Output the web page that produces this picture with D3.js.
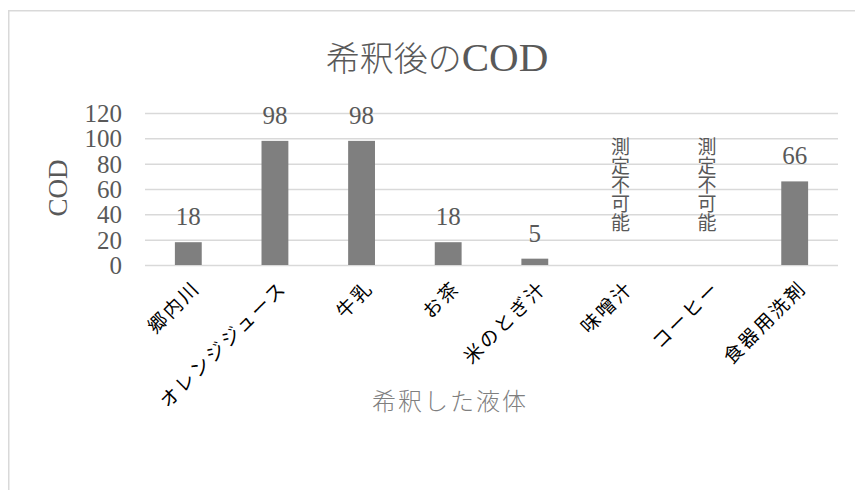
<!DOCTYPE html>
<html>
<head>
<meta charset="utf-8">
<script src="https://cdn.jsdelivr.net/npm/d3@7"></script>
<style>
  html, body { margin: 0; padding: 0; background: #fff; }
  svg { display: block; }
</style>
</head>
<body>
<svg id="chart" width="855" height="490"></svg>
<script>
// COD after dilution, per tested liquid
const categories = ["郷内川", "オレンジジュース", "牛乳", "お茶", "米のとぎ汁", "味噌汁", "コーヒー", "食器用洗剤"];
const codValues = [18, 98, 98, 18, 5, null, null, 66];
const valueLabels = ["18", "98", "98", "18", "5", "測定不可能", "測定不可能", "66"];
const yTickValues = [0, 20, 40, 60, 80, 100, 120];

const serif = "'Liberation Serif', 'Times New Roman', 'DejaVu Serif', serif";
const cjk = "'Noto Sans CJK JP', sans-serif";

const svg = d3.select("#chart");

// chart frame
svg.append("rect")
  .attr("x", 8.75).attr("y", 10.75)
  .attr("width", 900).attr("height", 600)
  .attr("fill", "#fff").attr("stroke", "#d9d9d9").attr("stroke-width", 1.5);

const plot = { left: 145, right: 838, top: 113, bottom: 265 };

const x = d3.scaleBand()
  .domain(categories)
  .range([plot.left, plot.right])
  .paddingInner(0.69)
  .paddingOuter(0.345);

const y = d3.scaleLinear()
  .domain([0, 120])
  .range([plot.bottom, plot.top]);

// title: Japanese part + Latin part
const title = svg.append("text")
  .attr("x", 437).attr("y", 71)
  .attr("text-anchor", "middle")
  .attr("fill", "#595959");
title.append("tspan").attr("font-family", cjk).attr("font-weight", 300).attr("font-size", 34).text("希釈後の");
title.append("tspan").style("font-family", serif).attr("font-size", 41).text("COD");

// gridlines + y tick labels
const yAxis = svg.append("g")
  .attr("transform", `translate(${plot.left},0)`)
  .call(d3.axisLeft(y).tickValues(yTickValues).tickSize(-(plot.right - plot.left)).tickPadding(23));
yAxis.select(".domain").remove();
yAxis.selectAll(".tick line").attr("stroke", "#d9d9d9").attr("stroke-width", 1.5);
yAxis.selectAll(".tick text")
  .style("font-family", serif)
  .attr("font-size", 25)
  .attr("dy", "0.34em")
  .attr("fill", "#595959");

// bars
svg.append("g").selectAll("rect")
  .data(categories.map((c, i) => ({ c, v: codValues[i] })).filter(d => d.v != null))
  .join("rect")
  .attr("x", d => x(d.c))
  .attr("width", x.bandwidth())
  .attr("y", d => y(d.v))
  .attr("height", d => y(0) - y(d.v))
  .attr("fill", "#7f7f7f");

// value labels (vertical text where no value could be measured)
const labels = svg.append("g");
categories.forEach((c, i) => {
  const cx = x(c) + x.bandwidth() / 2;
  const v = codValues[i];
  if (v != null) {
    labels.append("text")
      .attr("x", cx).attr("y", y(v) - 17)
      .attr("text-anchor", "middle")
      .style("font-family", serif)
      .attr("font-size", 25)
      .attr("fill", "#595959")
      .text(valueLabels[i]);
  } else {
    labels.append("text")
      .attr("x", cx - 1).attr("y", 137)
      .attr("writing-mode", "tb")
      .attr("font-family", cjk)
      .attr("font-size", 19)
      .attr("fill", "#595959")
      .text(valueLabels[i]);
  }
});

// category labels, rotated
svg.append("g").selectAll("text")
  .data(categories)
  .join("text")
  .attr("transform", d => `translate(${x(d) + x.bandwidth() / 2 + 13},${plot.bottom + 24}) rotate(-45)`)
  .attr("text-anchor", "end")
  .attr("font-family", cjk)
  .attr("font-size", 19)
  .attr("letter-spacing", 2.5)
  .attr("fill", "#000")
  .text(d => d);

// axis titles
svg.append("text")
  .attr("transform", `translate(67,188) rotate(-90)`)
  .attr("text-anchor", "middle")
  .style("font-family", serif)
  .attr("font-size", 27)
  .attr("fill", "#595959")
  .text("COD");

svg.append("text")
  .attr("x", 450).attr("y", 410)
  .attr("text-anchor", "middle")
  .attr("font-family", cjk)
  .attr("font-weight", 300)
  .attr("font-size", 24)
  .attr("letter-spacing", 2)
  .attr("fill", "#7f7f7f")
  .text("希釈した液体");
</script>
</body>
</html>
